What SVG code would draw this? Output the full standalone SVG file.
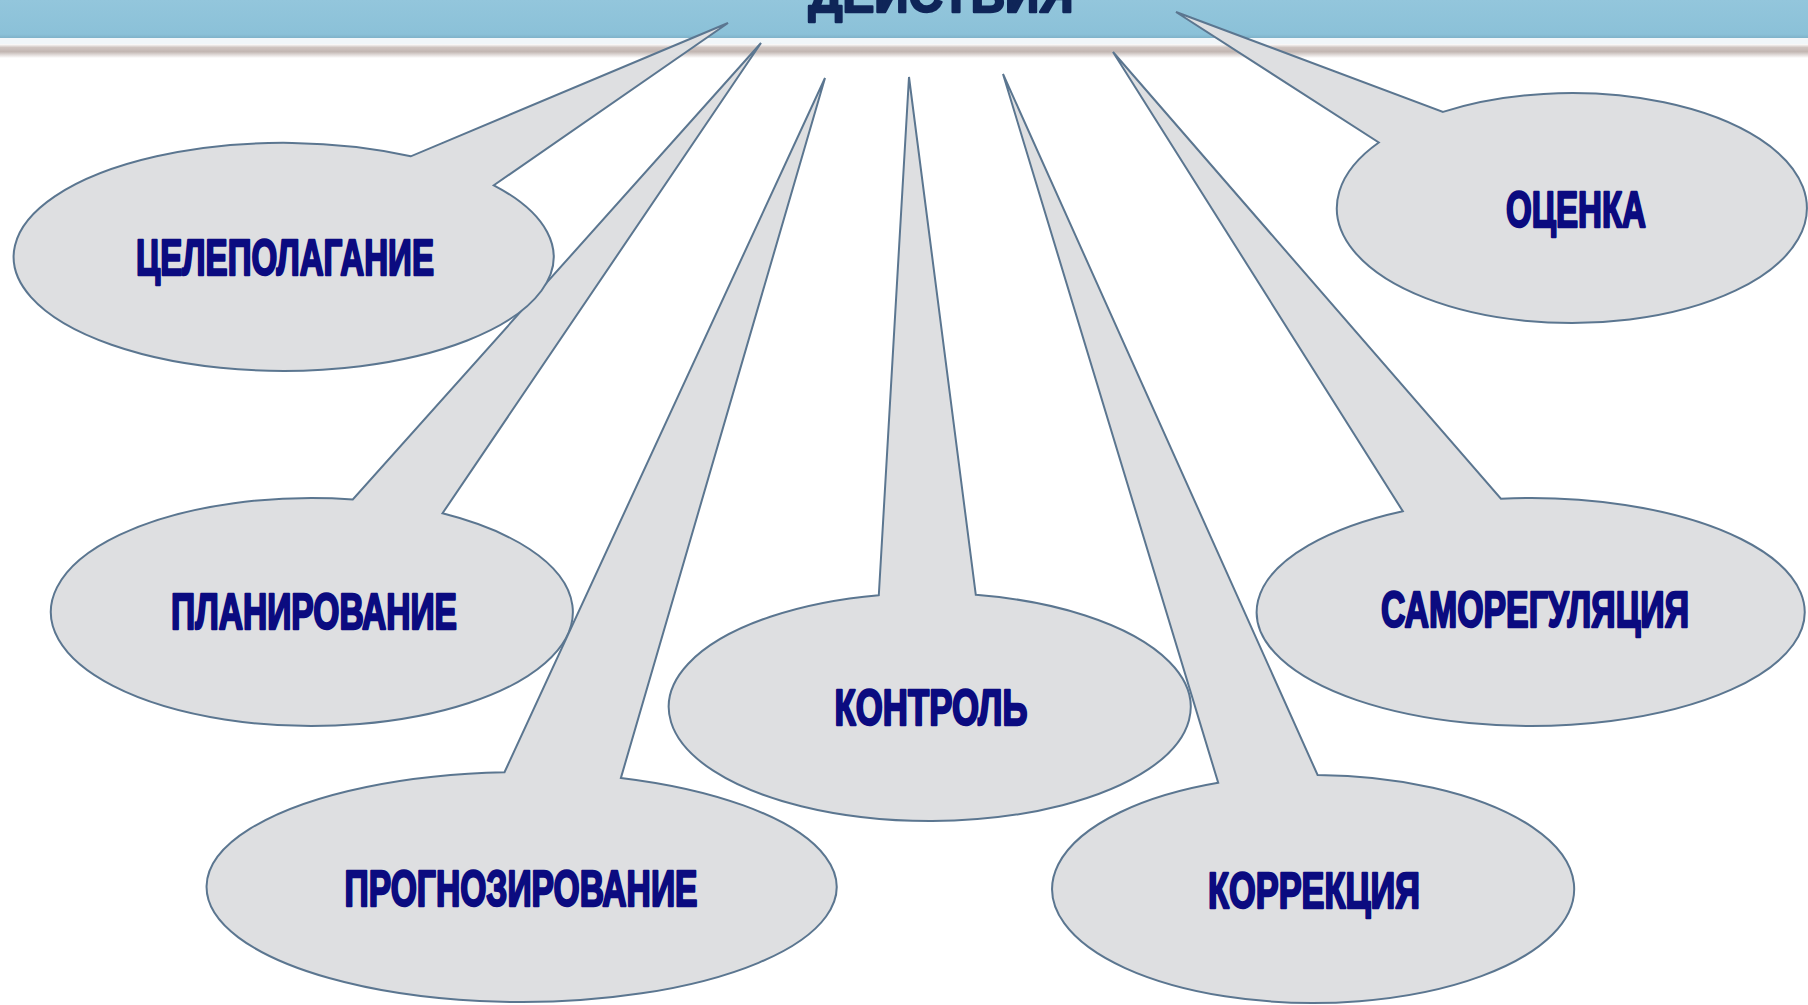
<svg xmlns="http://www.w3.org/2000/svg" width="1808" height="1005" viewBox="0 0 1808 1005">
  <defs>
    <linearGradient id="shadeBand" x1="0" y1="0" x2="0" y2="1">
      <stop offset="0" stop-color="#ffffff"/>
      <stop offset="0.25" stop-color="#cfc4c0"/>
      <stop offset="0.55" stop-color="#c2b6b2"/>
      <stop offset="1" stop-color="#ffffff"/>
    </linearGradient>
    <linearGradient id="bannerFill" x1="0" y1="0" x2="0" y2="1">
      <stop offset="0" stop-color="#93c6dc"/>
      <stop offset="0.9" stop-color="#8bc1d8"/>
      <stop offset="1" stop-color="#7fb2c9"/>
    </linearGradient>
  </defs>
  <style>
    .bubble { fill: #dedfe1; stroke: #5b7690; stroke-width: 2; stroke-linejoin: miter; }
    .label { font-family: "Liberation Sans", "DejaVu Sans", Arial, sans-serif; font-weight: bold; font-size: 50px; fill: #0b0b80; stroke: #0b0b80; stroke-width: 2.4; stroke-linejoin: round; text-anchor: middle; }
    .title { font-family: "Liberation Sans", "DejaVu Sans", Arial, sans-serif; font-weight: bold; font-size: 50px; fill: #0f2558; stroke: #0f2558; stroke-width: 2.4; stroke-linejoin: round; text-anchor: middle; }
  </style>
  <rect x="0" y="0" width="1808" height="1005" fill="#ffffff"/>
  <g id="banner">
    <rect x="0" y="0" width="1808" height="38" fill="url(#bannerFill)"/>
    <rect x="0" y="38" width="1808" height="7" fill="#f1f6f9"/>
    <rect x="0" y="44" width="1808" height="14" fill="url(#shadeBand)"/>
    <text class="title" x="941" y="12" textLength="265" lengthAdjust="spacingAndGlyphs">ДЕЙСТВИЯ</text>
  </g>
  <g id="node-planirovanie">
    <path class="bubble" d="M 442.5,513.3 A 261 114 0 1 1 352.8,499.4 L 761,43 Z"/>
    <text class="label" x="314" y="629" textLength="286" lengthAdjust="spacingAndGlyphs">ПЛАНИРОВАНИЕ</text>
  </g>
  <g id="node-celepolaganie">
    <path class="bubble" d="M 493.8,185.3 A 270 114 0 1 1 410.8,156.3 L 728,23 Z"/>
    <text class="label" x="285" y="275" textLength="298" lengthAdjust="spacingAndGlyphs">ЦЕЛЕПОЛАГАНИЕ</text>
  </g>
  <g id="node-prognozirovanie">
    <path class="bubble" d="M 620.9,777.9 A 315 115 0 1 1 504.5,772.2 L 825,78 Z"/>
    <text class="label" x="521" y="906" textLength="353" lengthAdjust="spacingAndGlyphs">ПРОГНОЗИРОВАНИЕ</text>
  </g>
  <g id="node-kontrol">
    <path class="bubble" d="M 975.8,594.8 A 261 114 0 1 1 878.8,595.2 L 909,77 Z"/>
    <text class="label" x="931" y="725" textLength="193" lengthAdjust="spacingAndGlyphs">КОНТРОЛЬ</text>
  </g>
  <g id="node-korrekciya">
    <path class="bubble" d="M 1317.6,775.0 A 261 114 0 1 1 1218.2,782.8 L 1003,74 Z"/>
    <text class="label" x="1314" y="908" textLength="212" lengthAdjust="spacingAndGlyphs">КОРРЕКЦИЯ</text>
  </g>
  <g id="node-samoregulyaciya">
    <path class="bubble" d="M 1500.9,498.7 A 274 114 0 1 1 1402.8,511.2 L 1113,52 Z"/>
    <text class="label" x="1535" y="627" textLength="308" lengthAdjust="spacingAndGlyphs">САМОРЕГУЛЯЦИЯ</text>
  </g>
  <g id="node-ocenka">
    <path class="bubble" d="M 1443.0,111.9 A 235 115 0 1 1 1378.8,142.5 L 1176,12 Z"/>
    <text class="label" x="1576" y="227" textLength="140" lengthAdjust="spacingAndGlyphs">ОЦЕНКА</text>
  </g>
  <g id="connectors"></g>
</svg>
